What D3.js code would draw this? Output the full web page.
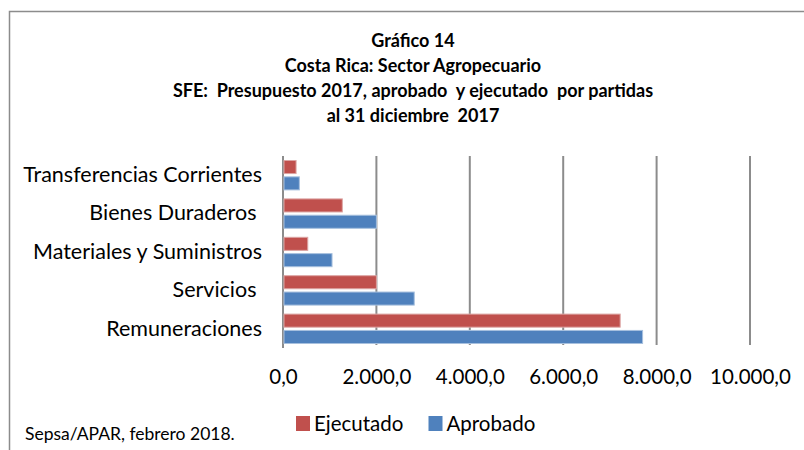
<!DOCTYPE html>
<html>
<head>
<meta charset="utf-8">
<script src="https://cdn.jsdelivr.net/npm/d3@7"></script>
<style>
  body { margin: 0; background: #fff; }
  svg { font-family: Lato, "Open Sans", sans-serif; }
</style>
</head>
<body>
<svg id="chart"></svg>
<script>
// chart data
var categories = ["Transferencias Corrientes", "Bienes Duraderos ", "Materiales y Suministros", "Servicios ", "Remuneraciones"];
var seriesNames = ["Ejecutado", "Aprobado"];
var ejecutado = [280, 1270, 530, 2000, 7220];
var aprobado = [350, 2000, 1050, 2810, 7700];
var xTicks = [0, 2000, 4000, 6000, 8000, 10000];
var titleLines = ["Gráfico 14", "Costa Rica: Sector Agropecuario", "SFE:  Presupuesto 2017, aprobado  y ejecutado  por partidas", "al 31 diciembre  2017"];
var sourceText = "Sepsa/APAR, febrero 2018.";

// define bounds
var width = 804, height = 450;
var plot = {left: 283, right: 750, top: 156, bottom: 348};

// define style
var colors = {Ejecutado: "#C0504D", Aprobado: "#4F81BD"};
var edge = {Ejecutado: "#dca5a4", Aprobado: "#a7c0de"};
var gridColor = "#8c8c8c";

// spanish number format
var es = d3.formatLocale({decimal: ",", thousands: ".", grouping: [3], currency: ["", ""]});
var fmt = es.format(",.1f");

var svg = d3.select("#chart")
    .attr("width", width)
    .attr("height", height);

svg.append("rect")
    .attr("width", width).attr("height", height)
    .attr("fill", "#fff");

// chart frame
svg.append("rect")
    .attr("x", 9.5).attr("y", 11.5)
    .attr("width", 900).attr("height", 600)
    .attr("fill", "none")
    .attr("stroke", gridColor)
    .attr("stroke-width", 1.5);

// scales
var x = d3.scaleLinear().domain([0, 10000]).range([plot.left, plot.right]);
var y = d3.scaleBand().domain(categories).range([plot.top, plot.bottom]);
var inset = 4.5;
var ySeries = d3.scaleBand().domain(seriesNames)
    .range([inset, y.bandwidth() - inset])
    .paddingInner(0.2);

// gridlines
svg.append("g")
    .selectAll("line")
    .data(xTicks)
    .enter().append("line")
    .attr("x1", d => x(d)).attr("x2", d => x(d))
    .attr("y1", plot.top).attr("y2", d => d === 0 ? plot.bottom : plot.bottom - 3)
    .attr("stroke", gridColor)
    .attr("stroke-width", 2);

// bars
var rows = categories.map((c, i) => ({cat: c, Ejecutado: ejecutado[i], Aprobado: aprobado[i]}));

var groups = svg.append("g")
    .selectAll("g")
    .data(rows)
    .enter().append("g")
    .attr("transform", d => "translate(0," + y(d.cat) + ")");

groups.selectAll("rect")
    .data(d => seriesNames.map(s => ({name: s, value: d[s]})))
    .enter().append("rect")
    .attr("x", x(0) + 1)
    .attr("y", d => ySeries(d.name))
    .attr("width", d => x(d.value) - x(0) - 1)
    .attr("height", ySeries.bandwidth())
    .attr("fill", d => colors[d.name])
    .attr("stroke", d => edge[d.name])
    .attr("stroke-width", 1);

// x axis
var xAxis = d3.axisBottom(x).tickValues(xTicks).tickFormat(fmt).tickSize(0).tickPadding(24);
svg.append("g")
    .attr("transform", "translate(0," + (plot.bottom - 3) + ")")
    .call(xAxis)
    .call(g => g.select(".domain").remove())
    .selectAll("text")
    .attr("font-family", "Lato, sans-serif")
    .attr("font-size", 20.5)
    .attr("fill", "#000");

// y axis
var yAxis = d3.axisLeft(y).tickSize(0).tickPadding(21);
svg.append("g")
    .attr("transform", "translate(" + plot.left + ",0)")
    .call(yAxis)
    .call(g => g.select(".domain").remove())
    .selectAll("text")
    .style("white-space", "pre")
    .attr("font-family", "Lato, sans-serif")
    .attr("font-size", 21.5)
    .attr("fill", "#000");

// title
svg.append("g")
    .selectAll("text")
    .data(titleLines)
    .enter().append("text")
    .attr("x", 413)
    .attr("y", (d, i) => 47 + i * 24.9)
    .attr("text-anchor", "middle")
    .attr("font-weight", "bold")
    .attr("font-size", 18)
    .style("white-space", "pre")
    .text(d => d);

// legend
var legendX = [296, 428.5];
var legend = svg.append("g")
    .selectAll("g")
    .data(seriesNames)
    .enter().append("g")
    .attr("transform", (d, i) => "translate(" + legendX[i] + ",416)");

legend.append("rect")
    .attr("width", 14).attr("height", 15)
    .attr("fill", d => colors[d]);

legend.append("text")
    .attr("x", 18).attr("y", 15)
    .attr("font-size", 20.5)
    .text(d => d);

// source
svg.append("text")
    .attr("x", 25).attr("y", 440)
    .attr("font-size", 17.5)
    .text(sourceText);
</script>
</body>
</html>
